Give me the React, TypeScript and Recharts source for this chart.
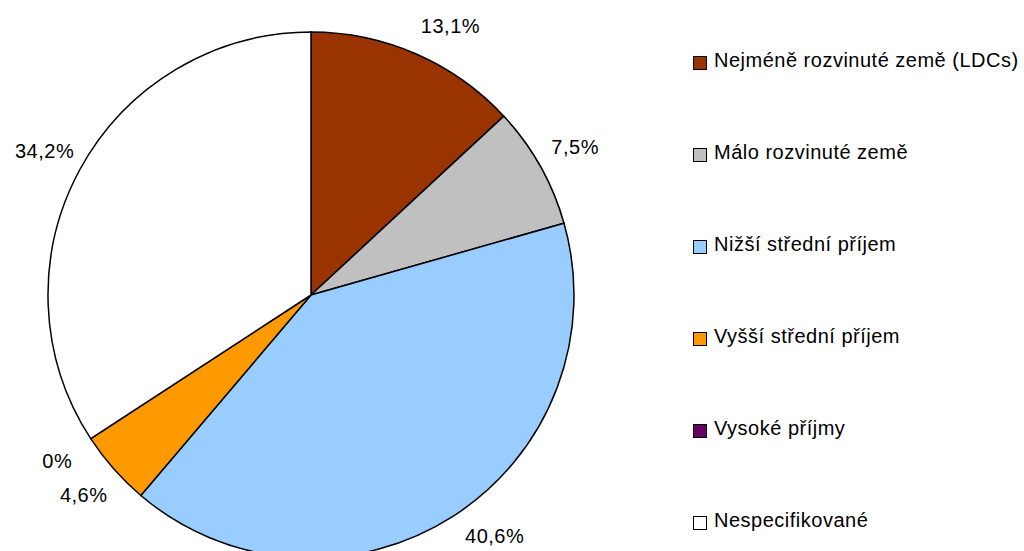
import { PieChart, Pie, Cell, Legend } from 'recharts';

const categories = [
  'Nejméně rozvinuté země (LDCs)',
  'Málo rozvinuté země',
  'Nižší střední příjem',
  'Vyšší střední příjem',
  'Vysoké příjmy',
  'Nespecifikované',
];
const shares = [13.1, 7.5, 40.6, 4.6, 0, 34.2];
const colors = ['#993300', '#C0C0C0', '#99CCFF', '#FF9900', '#660066', '#FFFFFF'];

const data = categories.map((name, i) => ({ name, value: shares[i] }));

const FONT = '"Liberation Sans", Arial, sans-serif';
const RAD = Math.PI / 180;

function fmt(v: number) {
  return `${String(v).replace('.', ',')}%`;
}

// labels sit on a circle outside the pie; near the top/bottom edge they slide along it to stay inside
function renderLabel(props: any) {
  const { cx, cy, midAngle, outerRadius, value } = props;
  const r = outerRadius + 40;
  const cos = Math.cos(-midAngle * RAD);
  let x = cx + r * cos;
  let y = cy + r * Math.sin(-midAngle * RAD);
  const minY = 26;
  const maxY = 536;
  if (y < minY || y > maxY) {
    y = Math.min(maxY, Math.max(minY, y));
    const dy = y - cy;
    x = cx + Math.sign(cos) * Math.sqrt(Math.max(0, r * r - dy * dy));
  }
  return (
    <text
      x={x}
      y={y}
      fill="#000"
      textAnchor="middle"
      dominantBaseline="central"
      style={{ fontFamily: FONT, fontSize: 20, letterSpacing: 0.5 }}
    >
      {fmt(value)}
    </text>
  );
}

function LegendBox() {
  return (
    <div style={{ position: 'relative', width: 330, height: 551 }}>
      {categories.map((c, i) => (
        <div
          key={c}
          style={{
            position: 'absolute',
            left: 0,
            top: 60 + i * 92 - 12,
            height: 24,
            display: 'flex',
            alignItems: 'center',
            fontFamily: FONT,
            fontSize: 20,
            letterSpacing: 0.5,
            color: '#000',
            whiteSpace: 'nowrap',
          }}
        >
          <span
            style={{
              display: 'inline-block',
              boxSizing: 'border-box',
              width: 14,
              height: 14,
              background: colors[i],
              border: '1.5px solid #000',
              marginRight: 7,
              marginTop: 6,
              flex: 'none',
            }}
          />
          {c}
        </div>
      ))}
    </div>
  );
}

export default function App() {
  return (
    <div style={{ position: 'absolute', left: 0, top: 0, width: 1024, height: 551, background: '#fff' }}>
      <PieChart width={1024} height={551} margin={{ top: 0, right: 0, bottom: 0, left: 0 }}>
        <Pie
          data={data}
          dataKey="value"
          nameKey="name"
          cx={311}
          cy={295}
          outerRadius={263}
          startAngle={90}
          endAngle={-270}
          stroke="#000"
          strokeWidth={1.5}
          label={renderLabel}
          labelLine={false}
          isAnimationActive={false}
        >
          {data.map((d, i) => (
            <Cell key={d.name} fill={colors[i]} />
          ))}
        </Pie>
        <Legend
          content={<LegendBox />}
          layout="vertical"
          verticalAlign="top"
          align="right"
          wrapperStyle={{ left: 693, top: 0, width: 330 }}
        />
      </PieChart>
    </div>
  );
}
